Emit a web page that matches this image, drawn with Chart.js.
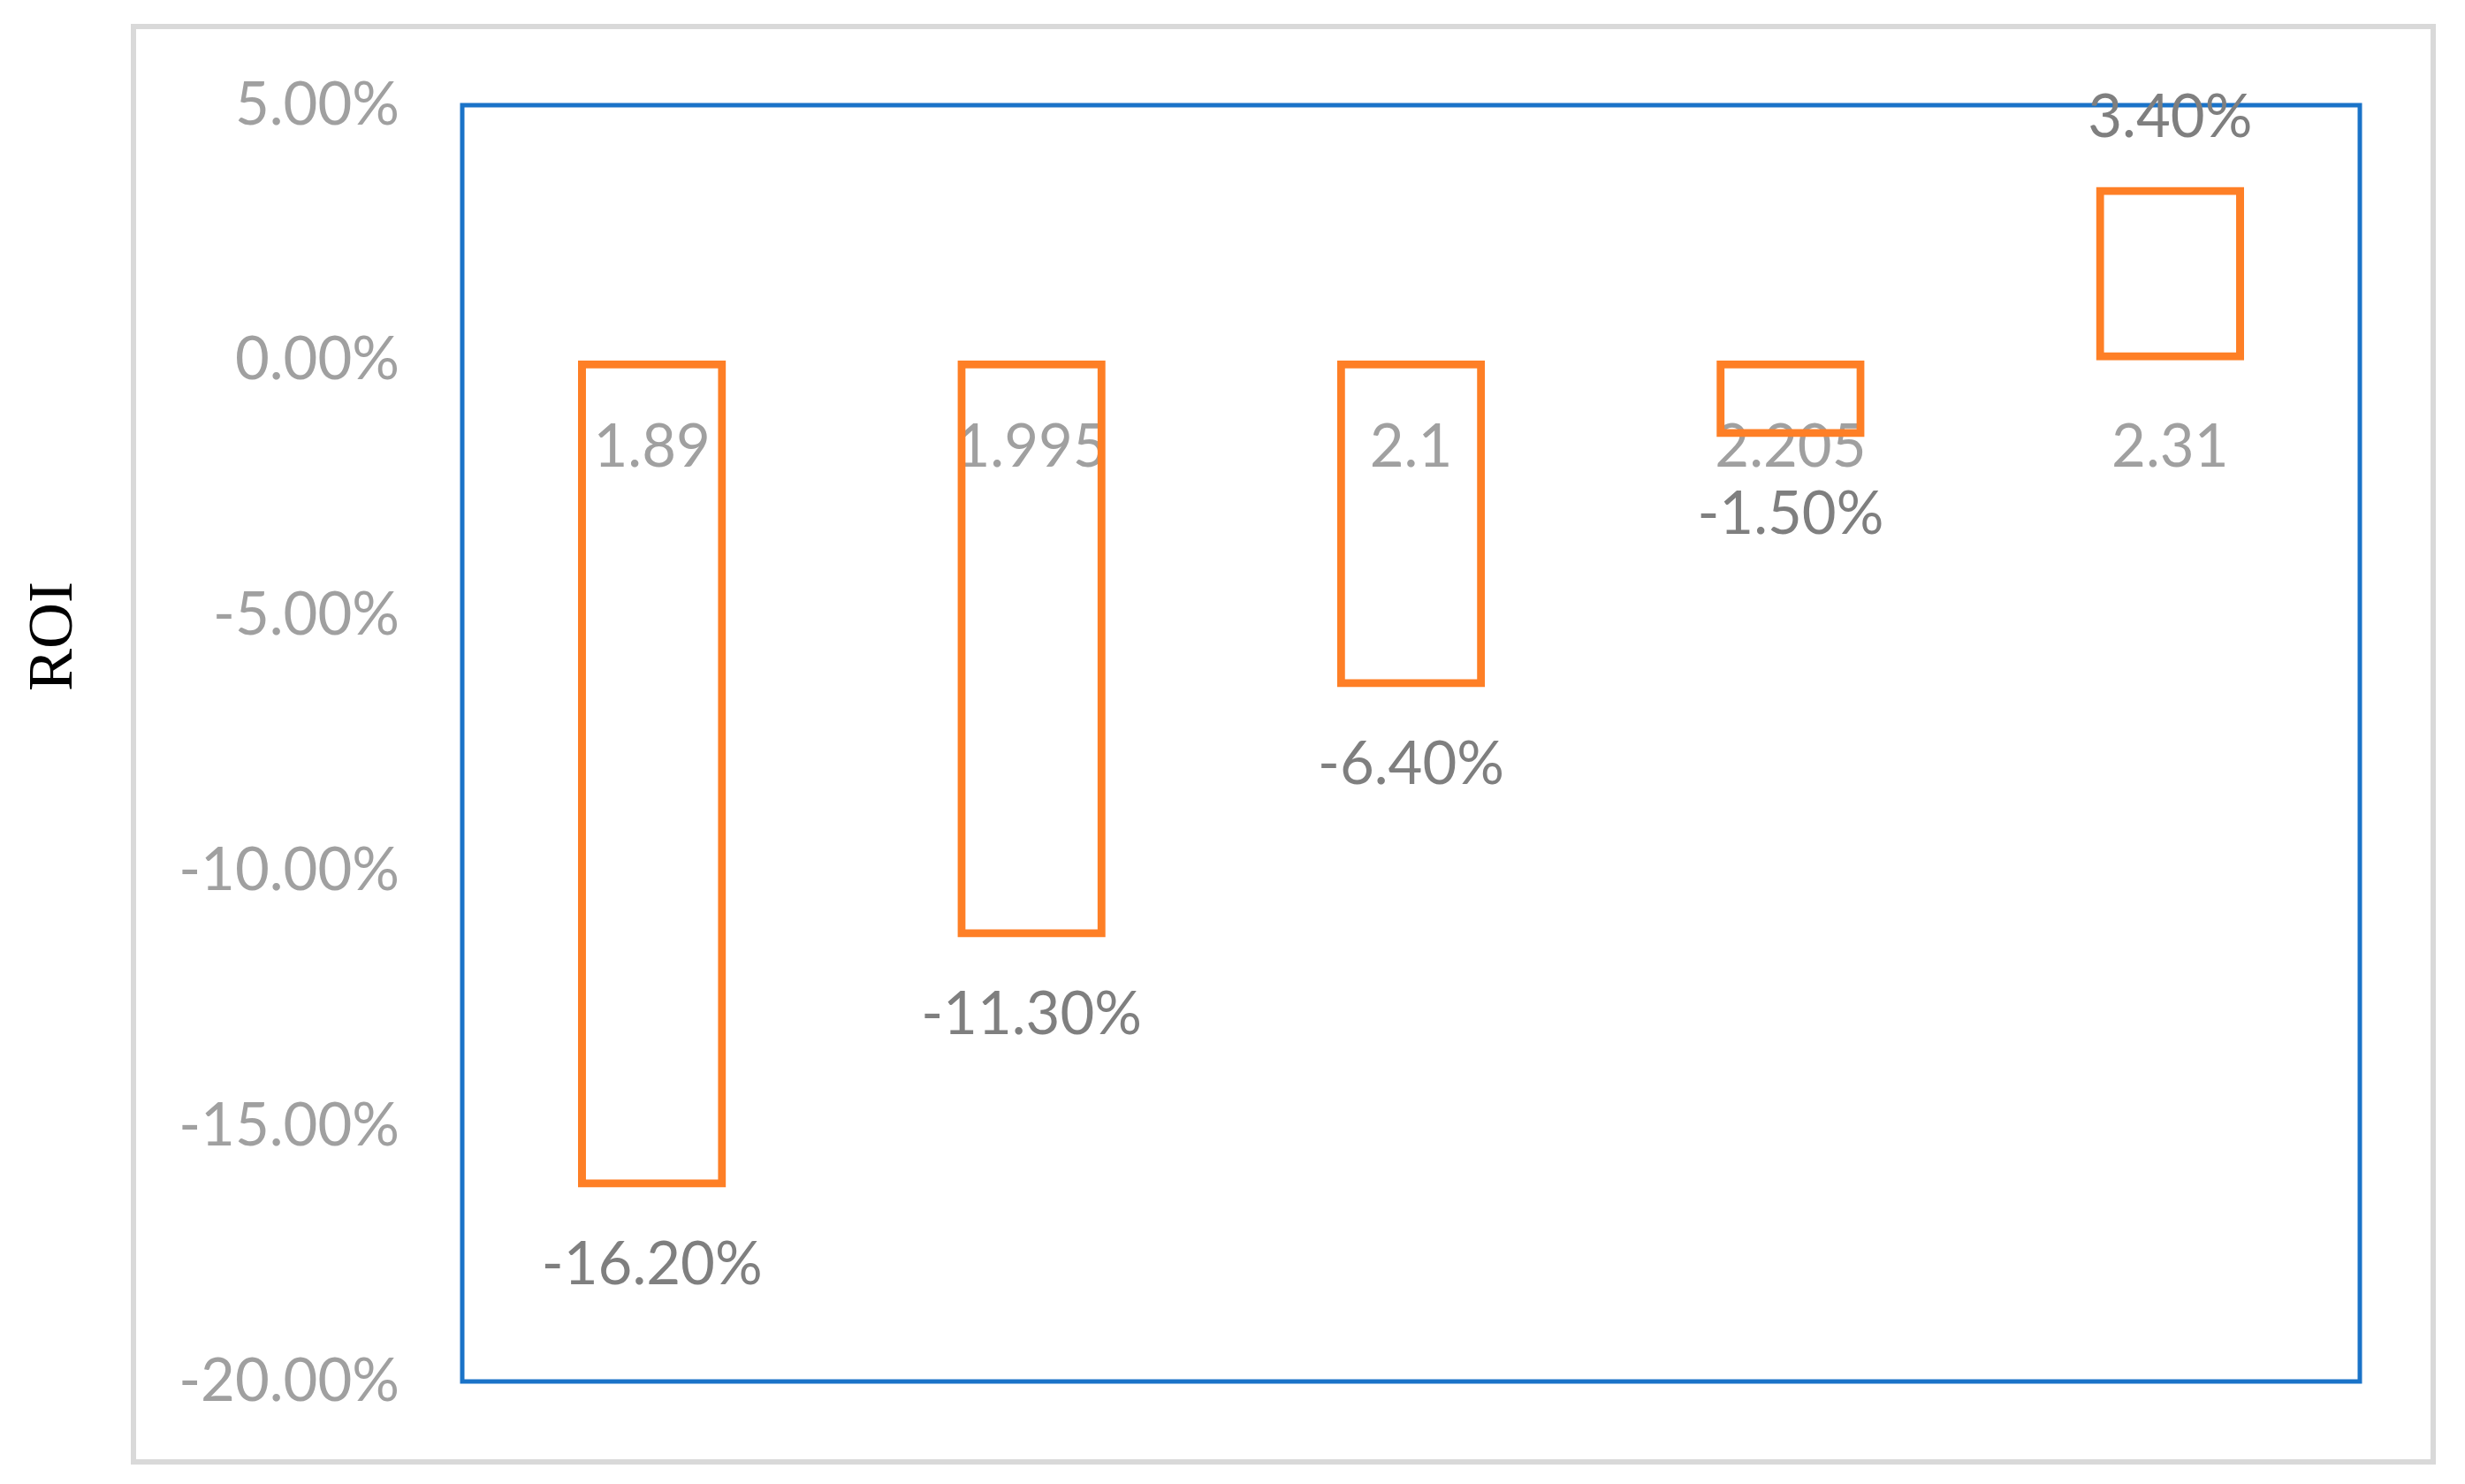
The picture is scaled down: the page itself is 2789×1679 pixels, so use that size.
<!DOCTYPE html>
<html><head><meta charset="utf-8">
<script src="https://cdn.jsdelivr.net/npm/chart.js@4.4.1/dist/chart.umd.min.js"></script>
<style>html,body{margin:0;padding:0;background:#fff;overflow:hidden}canvas{display:block}</style>
</head><body>
<canvas id="c" width="2789" height="1679"></canvas>
<script>
// ---- data ----
const categories = ['1.89', '1.995', '2.1', '2.205', '2.31'];
const roiValues = [-0.162, -0.113, -0.064, -0.015, 0.034];
const yTickValues = [0.05, 0, -0.05, -0.10, -0.15, -0.20];
const yAxisTitle = 'ROI';

const pct = v => (v * 100).toFixed(2) + '%';
const LABEL_FONT = {family: 'Lato', size: 67};

const framePlugin = {
  id: 'frame',
  beforeDraw(chart) {
    const ctx = chart.ctx, a = chart.chartArea;
    ctx.save();
    ctx.fillStyle = '#ffffff';
    ctx.fillRect(0, 0, chart.width, chart.height);
    ctx.strokeStyle = '#D9D9D9';
    ctx.lineWidth = 6;
    ctx.strokeRect(151, 30, 2753 - 151, 1654 - 30);
    ctx.strokeStyle = '#1A73C8';
    ctx.lineWidth = 5;
    ctx.strokeRect(a.left, a.top, a.right - a.left, a.bottom - a.top);
    ctx.restore();
  }
};

const valueLabelPlugin = {
  id: 'valueLabels',
  afterDraw(chart) {
    const ctx = chart.ctx, ys = chart.scales.y;
    const meta = chart.getDatasetMeta(0);
    ctx.save();
    ctx.font = LABEL_FONT.size + 'px ' + LABEL_FONT.family;
    ctx.fillStyle = '#7F7F7F';
    ctx.textAlign = 'center';
    ctx.textBaseline = 'middle';
    meta.data.forEach((bar, i) => {
      const v = roiValues[i];
      const py = ys.getPixelForValue(v);
      const y = v < 0 ? py + 88 : py - 78;
      ctx.fillText(pct(v), bar.x, y);
    });
    // y axis title
    ctx.translate(62, 720);
    ctx.rotate(-Math.PI / 2);
    ctx.font = '72px "Liberation Serif"';
    ctx.fillStyle = '#000000';
    ctx.fillText(yAxisTitle, 0, 0);
    ctx.restore();
  }
};

new Chart(document.getElementById('c'), {
  type: 'bar',
  data: {
    labels: categories,
    datasets: [{
      data: roiValues,
      backgroundColor: 'rgba(255,255,255,0)',
      borderColor: '#FE7F26',
      borderWidth: 9,
      borderSkipped: false,
      inflateAmount: 0,
      barPercentage: 0.39,
      categoryPercentage: 1
    }]
  },
  options: {
    responsive: false,
    animation: false,
    devicePixelRatio: 1,
    layout: {padding: {left: 0, right: 119, top: 119, bottom: 116}},
    plugins: {legend: {display: false}, tooltip: {enabled: false}},
    scales: {
      x: {
        type: 'category',
        position: {y: 0},
        offset: true,
        z: 1,
        grid: {display: false, drawTicks: false},
        border: {display: false},
        ticks: {color: '#A0A0A0', font: LABEL_FONT, padding: 58, maxRotation: 0}
      },
      y: {
        min: -0.2,
        max: 0.05,
        afterBuildTicks: s => { s.ticks = yTickValues.map(v => ({value: v})); },
        afterFit: s => { s.width = 523; },
        grid: {display: false, drawTicks: false},
        border: {display: false},
        ticks: {color: '#A0A0A0', font: LABEL_FONT, padding: 71, callback: v => pct(v)}
      }
    }
  },
  plugins: [framePlugin, valueLabelPlugin]
});
</script>
</body></html>
